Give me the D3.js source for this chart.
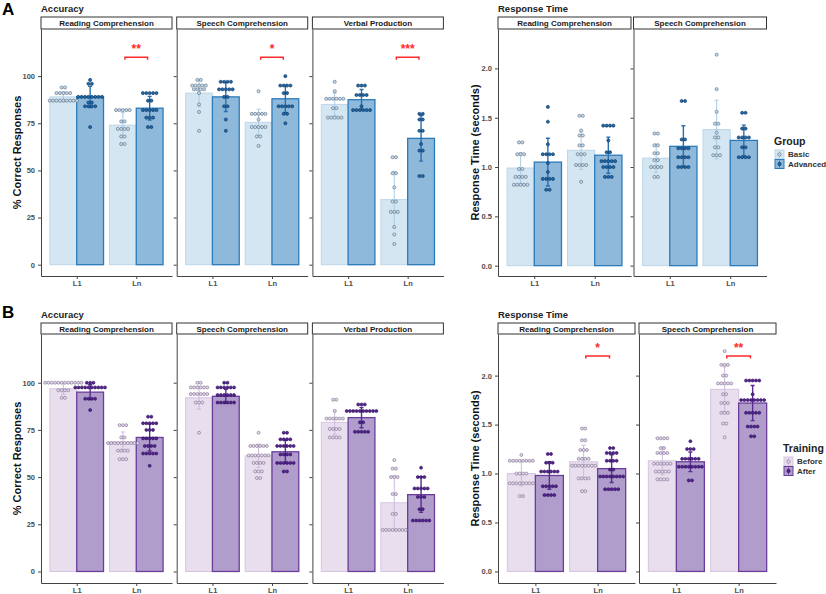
<!DOCTYPE html>
<html>
<head>
<meta charset="utf-8">
<script src="https://cdn.jsdelivr.net/npm/d3@7"></script>
<style>
  body { margin: 0; background: #fff; }
  svg text { font-family: "Liberation Sans", Arial, sans-serif; }
</style>
</head>
<body>
<svg id="fig" width="826" height="594"></svg>
<script>
// ---- data ----
const langs = ["L1", "Ln"];
const accTasks = ["Reading Comprehension", "Speech Comprehension", "Verbal Production"];
const rtTasks = ["Reading Comprehension", "Speech Comprehension"];
const groupsA = ["Basic", "Advanced"];
const groupsB = ["Before", "After"];
const accTicks = [0, 25, 50, 75, 100];
const rtTicks = [0, 0.5, 1, 1.5, 2];

// bar heights, [task][lang][group]
const accMeansA = [[[89, 89], [74, 83]], [[91, 89], [75.5, 88]], [[85, 87.5], [34.5, 67]]];
const rtMeansA = [[[0.99, 1.05], [1.17, 1.12]], [[1.09, 1.21], [1.38, 1.27]]];
const accMeansB = [[[96.8, 95], [68.7, 71]], [[92, 92.8], [61.3, 63.4]], [[79, 81.5], [36.4, 40.7]]];
const rtMeansB = [[[1.0, 0.98], [1.12, 1.05]], [[1.13, 1.12], [1.86, 1.72]]];

// participant dots as dot-plot rows [value, count], [task][lang][group]
const accDotsA = [
  [[[[94, 2], [91, 5], [87, 9]],
    [[98, 1], [96, 2], [89, 8], [86, 2], [84, 4], [73, 1]]],
   [[[82, 5], [76, 2], [72, 4], [68, 2], [64, 2]],
    [[91, 5], [87, 2], [82, 5], [78, 3], [73, 2]]]],
  [[[[98, 2], [95, 5], [93, 4], [91, 1], [85, 1], [81, 1], [71, 1]],
    [[97, 4], [93, 5], [89, 2], [84, 2], [77, 1], [71, 1]]],
   [[[92, 1], [80, 5], [77, 1], [73, 5], [68, 2], [63, 1]],
    [[100, 1], [95, 4], [91, 2], [84, 5], [80, 2], [75, 1]]]],
  [[[[97, 1], [92, 1], [88, 6], [83, 2], [78, 5]],
    [[95, 3], [90, 4], [84, 1], [82, 6]]],
   [[[57, 2], [48.5, 2], [41, 1], [33.5, 2], [28, 3], [20, 1], [16, 1], [11, 1]],
    [[80, 2], [77, 2], [71, 2], [64, 1], [60.5, 2], [47, 2]]]]
];
const rtDotsA = [
  [[[[1.25, 2], [1.13, 3], [0.98, 2], [0.90, 4], [0.82, 5]],
    [[1.61, 1], [1.46, 1], [1.23, 1], [1.13, 4], [1.04, 1], [0.95, 1], [0.88, 4], [0.77, 2]]],
   [[[1.52, 2], [1.37, 1], [1.32, 2], [1.22, 2], [1.13, 3], [1.02, 4], [0.85, 1]],
    [[1.42, 4], [1.27, 1], [1.15, 2], [1.06, 5], [1.0, 4], [0.9, 3]]]],
  [[[[1.34, 2], [1.22, 2], [1.14, 2], [1.07, 2], [1.0, 4], [0.9, 2]],
    [[1.67, 2], [1.28, 2], [1.19, 4], [1.1, 4], [1.0, 4]]],
   [[[2.14, 1], [1.79, 1], [1.56, 1], [1.44, 2], [1.35, 1], [1.3, 2], [1.2, 2], [1.12, 3]],
    [[1.55, 2], [1.39, 2], [1.3, 4], [1.2, 2], [1.1, 4]]]]
];
const accDotsB = [
  [[[[100, 12], [96, 4], [92, 2]],
    [[100, 3], [97.5, 10], [91.5, 4], [85.5, 1]]],
   [[[77.5, 3], [71, 2], [68, 10], [64, 4], [59.5, 3]],
    [[82, 2], [78.5, 5], [75, 3], [70.5, 5], [66.5, 4], [62.5, 5], [56, 1]]]],
  [[[[100, 2], [97.5, 6], [94, 6], [89.5, 3], [73.5, 1]],
    [[100, 2], [97.5, 6], [93.5, 6], [89.5, 6]]],
   [[[73.5, 1], [66.5, 6], [61.5, 7], [57.5, 4], [53, 3], [49.5, 2]],
    [[73.5, 2], [70, 4], [66.5, 6], [62, 4], [57.5, 6], [53, 2]]]],
  [[[[91, 2], [85, 1], [81, 6], [75.5, 4], [71, 4]],
    [[88.5, 3], [85, 10], [79, 2], [74, 5]]],
   [[[59, 1], [54.5, 2], [50, 3], [41, 2], [30.5, 2], [22, 8]],
    [[55, 1], [50, 3], [44, 5], [39.5, 3], [33, 2], [27, 6]]]]
];
const rtDotsB = [
  [[[[1.19, 1], [1.13, 8], [1.0, 4], [0.9, 8], [0.77, 2]],
    [[1.2, 2], [1.11, 3], [1.02, 6], [0.87, 5], [0.78, 4]]],
   [[[1.46, 2], [1.34, 2], [1.24, 3], [1.15, 4], [1.08, 8], [0.95, 4], [0.82, 2]],
    [[1.26, 2], [1.21, 4], [1.13, 4], [1.04, 2], [0.97, 8], [0.84, 5]]]],
  [[[[1.36, 4], [1.26, 2], [1.21, 4], [1.1, 6], [1.02, 5], [0.94, 4]],
    [[1.33, 1], [1.25, 3], [1.15, 6], [1.07, 8], [0.93, 2]]],
   [[[2.25, 1], [2.11, 3], [2.0, 2], [1.92, 5], [1.81, 2], [1.72, 3], [1.62, 3], [1.51, 2], [1.37, 1]],
    [[1.95, 5], [1.81, 1], [1.75, 8], [1.62, 5], [1.48, 4], [1.38, 2]]]]
];

// significance brackets
const sigAccA = [
  { task: 0, lang: "Ln", y: 110, label: "**" },
  { task: 1, lang: "Ln", y: 110, label: "*" },
  { task: 2, lang: "Ln", y: 110, label: "***" }
];
const sigRtB = [
  { task: 0, lang: "Ln", y: 2.2, label: "*" },
  { task: 1, lang: "Ln", y: 2.2, label: "**" }
];

// ---- styles ----
const blues = {
  barFill: ["#d4e6f1", "#8fb9da"], barStroke: ["#bcd6ea", "#2b7bba"],
  err: ["#a9cbe6", "#2b6fad"], dotFill: ["#c6dbef", "#1f6aab"], dotStroke: ["#56697a", "#0b325e"]
};
const purples = {
  barFill: ["#e8deee", "#b09dcc"], barStroke: ["#d6c5e2", "#6a3d9a"],
  err: ["#cdb9dd", "#5a2d8f"], dotFill: ["#e5d9ee", "#54278f"], dotStroke: ["#7b6b8a", "#2d0a5a"]
};
const sigColor = "#ff2a2a";

const svg = d3.select("#fig");

const expand = rows => rows.flatMap(([v, c]) => Array(c).fill(v));

function facetRow(o) {
  const y = d3.scaleLinear().domain(o.yDomain).range([o.bottom, o.top]);

  o.tasks.forEach((task, ti) => {
    const x0 = o.left + ti * o.step;
    const x = d3.scalePoint().domain(langs).range([x0, x0 + o.width]).padding(0.6);
    const bw = x.step() * 0.45;
    const g = svg.append("g");

    // strip
    g.append("rect")
      .attr("x", x0).attr("y", o.stripTop)
      .attr("width", o.width).attr("height", o.top - o.stripTop)
      .attr("fill", "#fff").attr("stroke", "#333").attr("stroke-width", 1);
    g.append("text")
      .attr("x", x0 + o.width / 2).attr("y", (o.stripTop + o.top) / 2 + 0.5)
      .attr("text-anchor", "middle").attr("dominant-baseline", "central")
      .attr("font-size", 8).attr("font-weight", "bold").attr("fill", "#1a1a1a")
      .text(task);

    // axes
    const ya = g.append("g")
      .attr("transform", `translate(${x0},0)`)
      .call(d3.axisLeft(y).tickValues(o.ticks).tickSize(3).tickSizeOuter(0)
        .tickFormat(ti === 0 ? o.fmt : () => ""));
    const xa = g.append("g")
      .attr("transform", `translate(0,${o.bottom})`)
      .call(d3.axisBottom(x).tickSize(3).tickSizeOuter(0));
    [ya, xa].forEach(a => {
      a.select(".domain").attr("stroke", "#444").attr("stroke-width", 1);
      a.selectAll(".tick line").attr("stroke", "#444");
      a.selectAll("text").attr("font-family", "Liberation Sans, Arial, sans-serif")
        .attr("font-size", 7.5).attr("font-weight", "bold").attr("fill", "#4d4d4d");
    });
    xa.selectAll("text").attr("dy", "0.5em");

    // bars
    langs.forEach((lang, li) => {
      [0, 1].forEach(gi => {
        const bx = x(lang) + (gi - 1) * bw;
        g.append("rect")
          .attr("x", bx).attr("y", y(o.means[ti][li][gi]))
          .attr("width", bw).attr("height", y(0) - y(o.means[ti][li][gi]))
          .attr("fill", o.pal.barFill[gi])
          .attr("stroke", o.pal.barStroke[gi])
          .attr("stroke-width", gi ? 1.3 : 1);
      });
    });

    // error bars (mean +/- sd of the dots)
    langs.forEach((lang, li) => {
      [0, 1].forEach(gi => {
        const cx = x(lang) + (gi - 0.5) * bw;
        const m = o.means[ti][li][gi];
        const sd = d3.deviation(expand(o.dots[ti][li][gi]));
        const y1 = y(m + sd), y2 = y(m - sd);
        g.append("path")
          .attr("d", `M${cx - 2},${y1}H${cx + 2}M${cx},${y1}V${y2}M${cx - 2},${y2}H${cx + 2}`)
          .attr("fill", "none")
          .attr("stroke", o.pal.err[gi])
          .attr("stroke-width", gi ? 1.4 : 1);
      });
    });

    // dots
    langs.forEach((lang, li) => {
      [0, 1].forEach(gi => {
        const cx = x(lang) + (gi - 0.5) * bw;
        o.dots[ti][li][gi].forEach(([v, c]) => {
          d3.range(c).forEach(k => {
            g.append("circle")
              .attr("cx", cx + (k - (c - 1) / 2) * o.dotStep)
              .attr("cy", y(v))
              .attr("r", o.dotStep / 2 - 0.15)
              .attr("fill", o.pal.dotFill[gi])
              .attr("stroke", o.pal.dotStroke[gi])
              .attr("stroke-width", 0.6);
          });
        });
      });
    });

    // significance
    (o.sig || []).filter(s => s.task === ti).forEach(s => {
      const c = x(s.lang), half = x.step() * 0.19, yb = y(s.y);
      g.append("path")
        .attr("d", `M${c - half},${yb + 2.5}V${yb}H${c + half}V${yb + 2.5}`)
        .attr("fill", "none").attr("stroke", sigColor).attr("stroke-width", 1.5);
      g.append("text")
        .attr("x", c).attr("y", yb - 4.5)
        .attr("text-anchor", "middle")
        .attr("font-size", 12).attr("font-weight", "bold").attr("fill", sigColor)
        .text(s.label);
    });
  });

  // title and y label
  svg.append("text")
    .attr("x", o.left).attr("y", o.stripTop - 5)
    .attr("font-family", "Liberation Mono, Courier New, monospace")
    .attr("font-size", 9.5).attr("font-weight", "bold").attr("fill", "#222")
    .text(o.title);
  svg.append("text")
    .attr("transform", `translate(${o.yLabelX},${(o.top + o.bottom) / 2}) rotate(-90)`)
    .attr("text-anchor", "middle").attr("dominant-baseline", "central")
    .attr("font-size", 11).attr("font-weight", "bold").attr("fill", "#111")
    .text(o.yLabel);
}

function legend(o) {
  svg.append("text")
    .attr("x", o.x).attr("y", o.y)
    .attr("font-size", 10.5).attr("font-weight", "bold").attr("fill", "#222")
    .text(o.title);
  o.labels.forEach((lab, i) => {
    const ky = o.y + 5 + i * 9.5;
    svg.append("rect")
      .attr("x", o.x + 1).attr("y", ky).attr("width", 9).attr("height", 9)
      .attr("fill", o.pal.barFill[i]).attr("stroke", o.pal.barStroke[i]).attr("stroke-width", 1);
    svg.append("line")
      .attr("x1", o.x + 5.5).attr("x2", o.x + 5.5).attr("y1", ky + 1).attr("y2", ky + 8)
      .attr("stroke", o.pal.err[i]).attr("stroke-width", 0.8);
    svg.append("circle")
      .attr("cx", o.x + 5.5).attr("cy", ky + 4.5).attr("r", 1.7)
      .attr("fill", o.pal.dotFill[i]).attr("stroke", o.pal.dotStroke[i]).attr("stroke-width", 0.6);
    svg.append("text")
      .attr("x", o.x + 14).attr("y", ky + 4.5)
      .attr("dominant-baseline", "central")
      .attr("font-size", 8).attr("font-weight", "bold").attr("fill", "#333")
      .text(lab);
  });
}

// ---- panel A ----
facetRow({
  tasks: accTasks, left: 41, width: 131, step: 135.7,
  stripTop: 17, top: 29, bottom: 276, yDomain: [-6, 125],
  ticks: accTicks, fmt: d3.format("d"),
  means: accMeansA, dots: accDotsA, pal: blues, dotStep: 3.4, sig: sigAccA,
  title: "Accuracy", yLabel: "% Correct Responses", yLabelX: 17
});
facetRow({
  tasks: rtTasks, left: 498, width: 133, step: 135.5,
  stripTop: 17, top: 29, bottom: 276, yDomain: [-0.105, 2.4],
  ticks: rtTicks, fmt: d3.format(".1f"),
  means: rtMeansA, dots: rtDotsA, pal: blues, dotStep: 3.4,
  title: "Response Time", yLabel: "Response Time (seconds)", yLabelX: 475
});
legend({ x: 774, y: 145, title: "Group", labels: groupsA, pal: blues });

// ---- panel B ----
facetRow({
  tasks: accTasks, left: 41, width: 131, step: 135.7,
  stripTop: 323, top: 334, bottom: 583, yDomain: [-6.1, 125.8],
  ticks: accTicks, fmt: d3.format("d"),
  means: accMeansB, dots: accDotsB, pal: purples, dotStep: 3.3,
  title: "Accuracy", yLabel: "% Correct Responses", yLabelX: 17
});
facetRow({
  tasks: rtTasks, left: 498, width: 137, step: 141,
  stripTop: 323, top: 334, bottom: 583, yDomain: [-0.118, 2.425],
  ticks: rtTicks, fmt: d3.format(".1f"),
  means: rtMeansB, dots: rtDotsB, pal: purples, dotStep: 3.3, sig: sigRtB,
  title: "Response Time", yLabel: "Response Time (seconds)", yLabelX: 475
});
legend({ x: 783, y: 452, title: "Training", labels: groupsB, pal: purples });

// panel letters
svg.append("text").attr("x", 2).attr("y", 15)
  .attr("font-size", 17).attr("font-weight", "bold").attr("fill", "#000").text("A");
svg.append("text").attr("x", 2).attr("y", 318)
  .attr("font-size", 17).attr("font-weight", "bold").attr("fill", "#000").text("B");
</script>
</body>
</html>
